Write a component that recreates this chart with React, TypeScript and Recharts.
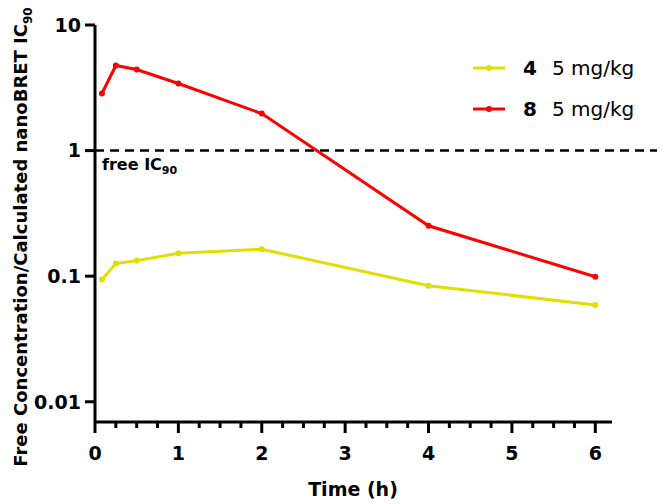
import { LineChart, Line, XAxis, YAxis, ReferenceLine, Legend } from 'recharts';

// sampling times (h)
const times = [0.083, 0.25, 0.5, 1, 2, 4, 6];
// free concentration / calculated nanoBRET IC90
const cmpd4 = [0.094, 0.126, 0.133, 0.152, 0.164, 0.084, 0.059];
const cmpd8 = [2.85, 4.76, 4.42, 3.42, 1.97, 0.252, 0.099];

const xTicks = [0, 0.25, 0.5, 0.75, 1, 1.25, 1.5, 1.75, 2, 2.25, 2.5, 2.75, 3, 3.25, 3.5, 3.75, 4, 4.25, 4.5, 4.75, 5, 5.25, 5.5, 5.75, 6];
const yTicks = [0.01, 0.1, 1, 10];
const yTickLabels = ['0.01', '0.1', '1', '10'];

const series = [
  { key: 'c4', cmpd: '4', dose: '5 mg/kg', color: '#DFDF00' },
  { key: 'c8', cmpd: '8', dose: '5 mg/kg', color: '#FF0000' },
];

const data = times.map((t, i) => ({ time: t, c4: cmpd4[i], c8: cmpd8[i] }));

const FONT = '"DejaVu Sans", sans-serif';
const Y_MIN = 0.0069;
const X_MAX = 6.74;
const X_AXIS_END = 6.2;

function TimeTick(props: any) {
  const { x, y, payload } = props;
  const v = payload.value;
  const major = Number.isInteger(v);
  return (
    <g>
      <line x1={x} x2={x} y1={y} y2={y + (major ? 11 : 6)} stroke="#000" strokeWidth={3} />
      {major && (
        <text x={x} y={y + 38} textAnchor="middle" fontFamily={FONT} fontWeight="bold" fontSize={19} fill="#000">
          {v}
        </text>
      )}
    </g>
  );
}

function YTitle() {
  return (
    <text
      transform="translate(27, 237) rotate(-90)"
      textAnchor="middle"
      fontFamily={FONT}
      fontWeight="bold"
      fontSize={18}
      fill="#000"
    >
      Free Concentration/Calculated nanoBRET IC
      <tspan fontSize={12} dy={5}>90</tspan>
    </text>
  );
}

function XTitle() {
  return (
    <text x={353} y={496} textAnchor="middle" fontFamily={FONT} fontWeight="bold" fontSize={19} fill="#000">
      Time (h)
    </text>
  );
}

function FreeLabel(props: any) {
  const { viewBox } = props;
  return (
    <text x={viewBox.x + 7} y={viewBox.y + 19} fontFamily={FONT} fontWeight="bold" fontSize={16} fill="#000">
      free IC
      <tspan fontSize={11} dy={4}>90</tspan>
    </text>
  );
}

function LegendBox() {
  return (
    <div style={{ fontFamily: FONT, color: '#000' }}>
      {series.map((s) => (
        <div key={s.key} style={{ display: 'flex', alignItems: 'center', height: 41 }}>
          <svg width={34} height={10} style={{ marginRight: 17 }}>
            <line x1={1} x2={33} y1={5} y2={5} stroke={s.color} strokeWidth={3} />
            <circle cx={17} cy={5} r={3} fill={s.color} />
          </svg>
          <span style={{ fontWeight: 'bold', fontSize: 20, display: 'inline-block', width: 29 }}>{s.cmpd}</span>
          <span style={{ fontSize: 20 }}>{s.dose}</span>
        </div>
      ))}
    </div>
  );
}

export default function App() {
  return (
    <div style={{ position: 'absolute', left: 0, top: 0, width: 664, height: 504, background: '#fff' }}>
      <LineChart width={664} height={504} data={data} margin={{ top: 25, right: 7, left: 20, bottom: 22 }}>
        <XAxis
          dataKey="time"
          type="number"
          domain={[0, X_MAX]}
          ticks={xTicks}
          interval={0}
          allowDataOverflow
          axisLine={false}
          tickLine={false}
          tickSize={0}
          tickMargin={0}
          height={60}
          tick={<TimeTick />}
          label={{ content: () => <XTitle /> }}
        />
        <YAxis
          type="number"
          scale="log"
          domain={[Y_MIN, 10]}
          ticks={yTicks}
          allowDataOverflow
          width={75}
          interval={0}
          axisLine={{ stroke: '#000', strokeWidth: 3 }}
          tickLine={{ stroke: '#000', strokeWidth: 3 }}
          tickSize={10}
          tickMargin={4}
          tick={{ fill: '#000', fontFamily: FONT, fontWeight: 'bold', fontSize: 19 }}
          tickFormatter={(v: number) => yTickLabels[yTicks.indexOf(v)] ?? String(v)}
          label={{ content: () => <YTitle /> }}
        />
        <ReferenceLine
          y={1}
          stroke="#000"
          strokeWidth={2.5}
          strokeDasharray="9 6"
          label={{ content: (p: any) => <FreeLabel {...p} /> }}
        />
        <ReferenceLine
          segment={[{ x: 0, y: Y_MIN }, { x: X_AXIS_END, y: Y_MIN }]}
          stroke="#000"
          strokeWidth={3}
          ifOverflow="visible"
        />
        <Legend
          layout="horizontal"
          verticalAlign="middle"
          align="center"
          content={() => <LegendBox />}
          wrapperStyle={{ position: 'absolute', left: 472, top: 47, width: 190 }}
        />
        {series.map((s) => (
          <Line
            key={s.key}
            type="linear"
            dataKey={s.key}
            stroke={s.color}
            strokeWidth={3}
            dot={{ r: 3, fill: s.color, stroke: s.color, strokeWidth: 0 }}
            activeDot={false}
            isAnimationActive={false}
          />
        ))}
      </LineChart>
    </div>
  );
}
